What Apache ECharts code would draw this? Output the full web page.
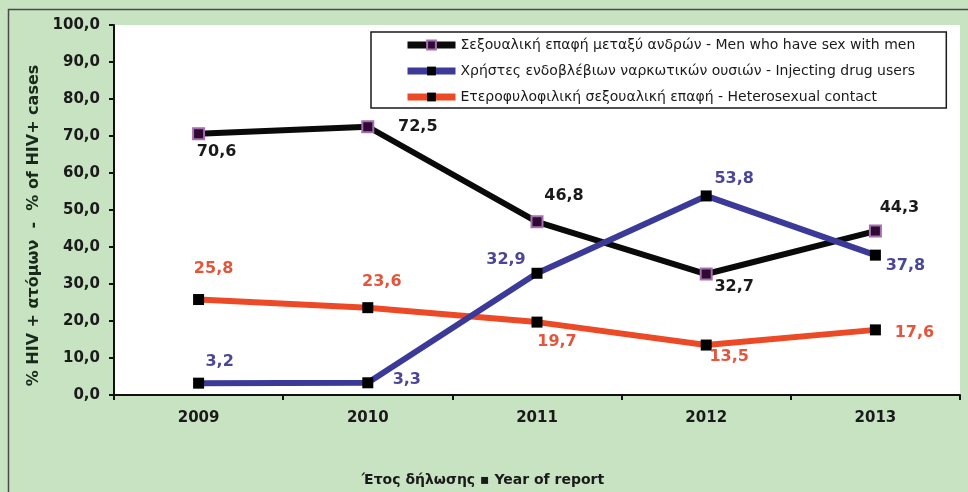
<!DOCTYPE html>
<html>
<head>
<meta charset="utf-8">
<script src="https://cdn.jsdelivr.net/npm/echarts@6/dist/echarts.min.js"></script>
<style>
  html, body { margin: 0; padding: 0; background: #c7e3c2; }
  #chart { width: 968px; height: 492px; }
</style>
</head>
<body>
<div id="chart"></div>
<script>
// Report years (x categories)
const years = ['2009', '2010', '2011', '2012', '2013'];

// Share of HIV+ cases (%) by transmission group
const msmValues    = [70.6, 72.5, 46.8, 32.7, 44.3];
const iduValues    = [3.2, 3.3, 32.9, 53.8, 37.8];
const heteroValues = [25.8, 23.6, 19.7, 13.5, 17.6];

const msmName    = 'Σεξουαλική επαφή μεταξύ ανδρών - Men who have sex with men';
const iduName    = 'Χρήστες ενδοβλέβιων ναρκωτικών ουσιών - Injecting drug users';
const heteroName = 'Ετεροφυλοφιλική σεξουαλική επαφή - Heterosexual contact';

// Value-label placement (pixel offsets of each label from its point)
const msmLabelOffsets    = [[18, 18], [50, 0], [27, -26], [28, 13], [24, -23]];
const iduLabelOffsets    = [[21, -21], [39, -3], [-31, -13], [28, -17], [30, 11]];
const heteroLabelOffsets = [[15, -31], [14, -26], [20, 20], [23, 12], [39, 3]];

const fmt = v => v.toFixed(1).replace('.', ',');
const FONT = '"DejaVu Sans", Verdana, sans-serif';

function points(values, offsets, color) {
  return values.map((v, i) => ({
    value: v,
    label: {
      show: true,
      position: 'inside',
      offset: offsets[i],
      formatter: p => fmt(p.value),
      color: color,
      fontFamily: FONT,
      fontWeight: 'bold',
      fontSize: 16
    }
  }));
}

const chart = echarts.init(document.getElementById('chart'), null, { renderer: 'canvas' });

chart.setOption({
  backgroundColor: '#c7e3c2',
  animation: false,
  graphic: [
    {
      type: 'rect',
      shape: { x: 8.5, y: 9.5, width: 990, height: 520 },
      style: { fill: 'none', stroke: '#4a4a4a', lineWidth: 1.5 },
      silent: true,
      z: -10
    }
  ],
  grid: {
    left: 114,
    right: 8,
    top: 25,
    bottom: 97,
    outerBoundsMode: 'none',
    show: true,
    backgroundColor: '#ffffff',
    borderWidth: 0
  },
  legend: {
    data: [msmName, iduName, heteroName],
    orient: 'vertical',
    left: 371,
    top: 32,
    padding: [6, 31, 4, 33],
    itemWidth: 48,
    itemHeight: 11,
    itemGap: 12,
    backgroundColor: '#ffffff',
    borderColor: '#1a1a1a',
    borderWidth: 1.5,
    borderRadius: 0,
    lineStyle: { width: 7 },
    textStyle: {
      fontFamily: FONT,
      fontSize: 14,
      color: '#1a1a1a'
    }
  },
  xAxis: {
    type: 'category',
    data: years,
    boundaryGap: true,
    name: 'Έτος δήλωσης ▪ Year of report',
    nameLocation: 'middle',
    nameGap: 78,
    nameTextStyle: {
      fontFamily: FONT,
      fontWeight: 'bold',
      fontSize: 14,
      color: '#1a1a1a',
      padding: [0, 108, 0, 0]
    },
    axisLine: { lineStyle: { color: '#111', width: 2 } },
    axisTick: { show: true, alignWithLabel: false, length: 5, lineStyle: { color: '#111', width: 2 } },
    axisLabel: {
      margin: 16,
      fontFamily: FONT,
      fontWeight: 'bold',
      fontSize: 15,
      color: '#1a1a1a'
    },
    splitLine: { show: false }
  },
  yAxis: {
    type: 'value',
    min: 0,
    max: 100,
    interval: 10,
    name: '% HIV + ατόμων  -  % of HIV+ cases',
    nameLocation: 'middle',
    nameGap: 72,
    nameRotate: 90,
    nameTextStyle: {
      fontFamily: FONT,
      fontWeight: 'bold',
      fontSize: 16,
      color: '#1a2a1a',
      padding: [0, 31, 0, 0]
    },
    axisLine: { show: true, lineStyle: { color: '#111', width: 2 } },
    axisTick: { show: true, length: 5, lineStyle: { color: '#111', width: 2 } },
    axisLabel: {
      margin: 14,
      formatter: v => fmt(v),
      fontFamily: FONT,
      fontWeight: 'bold',
      fontSize: 15,
      color: '#1a1a1a'
    },
    splitLine: { show: false }
  },
  series: [
    {
      name: heteroName,
      type: 'line',
      data: points(heteroValues, heteroLabelOffsets, '#e4553b'),
      lineStyle: { color: '#ec4a26', width: 6 },
      symbol: 'rect',
      symbolSize: 11,
      itemStyle: { color: '#000000', borderWidth: 0 },
      z: 2
    },
    {
      name: msmName,
      type: 'line',
      data: points(msmValues, msmLabelOffsets, '#1a1a1a'),
      lineStyle: { color: '#0a0a0a', width: 6 },
      symbol: 'rect',
      symbolSize: 11,
      itemStyle: { color: '#2e0a32', borderColor: '#a46fae', borderWidth: 2 },
      z: 3
    },
    {
      name: iduName,
      type: 'line',
      data: points(iduValues, iduLabelOffsets, '#4b4796'),
      lineStyle: { color: '#3c3a98', width: 6 },
      symbol: 'rect',
      symbolSize: 11,
      itemStyle: { color: '#000000', borderWidth: 0 },
      z: 4
    }
  ]
});
</script>
</body>
</html>
